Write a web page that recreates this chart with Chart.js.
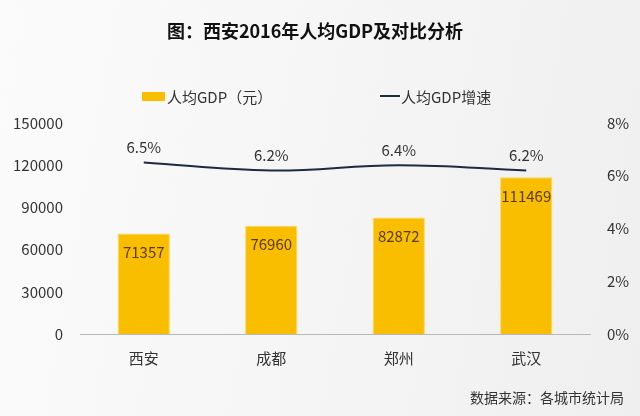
<!DOCTYPE html>
<html>
<head>
<meta charset="utf-8">
<script src="https://cdn.jsdelivr.net/npm/chart.js@4"></script>
<style>
    html, body { margin: 0; padding: 0; }
    body { width: 640px; height: 416px; background: linear-gradient(100deg, #fbfbfb 0%, #f4f4f4 60%, #efefef 100%); }
    #wrap { position: relative; width: 640px; height: 416px; }
</style>
</head>
<body>
<div id="wrap"><canvas id="myChart" width="640" height="416"></canvas></div>
<script>
const title = '图：西安2016年人均GDP及对比分析';
const source = '数据来源：各城市统计局';
const cities = ['西安', '成都', '郑州', '武汉'];
const gdp_per_capita = [71357, 76960, 82872, 111469];
const gdp_growth = [6.5, 6.2, 6.4, 6.2];
const left_ticks = [0, 30000, 60000, 90000, 120000, 150000];
const right_ticks = [0, 2, 4, 6, 8];

const font_family = '"Noto Sans CJK SC", "Noto Sans", sans-serif';
const text_color = '#333333';
const bar_color = '#F9BE00';
const line_color = '#1E2A44';

// title, legend, labels and source drawn on top of the chart
const decorations = {
    id: 'decorations',
    afterDatasetsDraw(chart) {
        const ctx = chart.ctx;
        ctx.save();

        ctx.fillStyle = '#111';
        ctx.font = 'bold 18px ' + font_family;
        ctx.textAlign = 'center';
        ctx.textBaseline = 'middle';
        ctx.fillText(title, 315, 31);

        // legend
        const sets = chart.data.datasets;
        ctx.font = '15px ' + font_family;
        ctx.textAlign = 'left';
        ctx.fillStyle = sets[0].backgroundColor;
        ctx.fillRect(142, 92, 23, 9);
        ctx.fillStyle = text_color;
        ctx.fillText(sets[0].label, 167, 97);
        ctx.strokeStyle = sets[1].borderColor;
        ctx.lineWidth = 2;
        ctx.beginPath();
        ctx.moveTo(380, 96);
        ctx.lineTo(400, 96);
        ctx.stroke();
        ctx.fillText(sets[1].label, 401, 97);

        // bar value labels
        const bars = chart.getDatasetMeta(0).data;
        ctx.textAlign = 'center';
        ctx.font = '15px ' + font_family;
        ctx.fillStyle = '#5a3b08';
        bars.forEach((bar, i) => {
            ctx.fillText(String(sets[0].data[i]), bar.x, bar.y + 19);
        });

        // line value labels
        const points = chart.getDatasetMeta(1).data;
        ctx.fillStyle = text_color;
        ctx.font = '15px ' + font_family;
        points.forEach((pt, i) => {
            ctx.fillText(sets[1].data[i].toFixed(1) + '%', pt.x, pt.y - 15);
        });

        ctx.textAlign = 'right';
        ctx.font = '14px ' + font_family;
        ctx.fillText(source, 624, 398);
        ctx.restore();
    }
};

let ctx = document.getElementById('myChart');
let myChart = new Chart(ctx, {
    data: {
        labels: cities,
        datasets: [{
            type: 'bar',
            label: '人均GDP（元）',
            data: gdp_per_capita,
            backgroundColor: bar_color,
            borderColor: '#FCD75A',
            borderWidth: 1,
            yAxisID: 'y',
            categoryPercentage: 1,
            barPercentage: 0.41,
            order: 2
        }, {
            type: 'line',
            label: '人均GDP增速',
            data: gdp_growth,
            borderColor: line_color,
            borderWidth: 2,
            tension: 0.4,
            pointRadius: 0,
            yAxisID: 'y1',
            order: 1
        }]
    },
    options: {
        responsive: false,
        animation: false,
        layout: { padding: { top: 123, left: 0, right: 0, bottom: 0 } },
        plugins: {
            legend: { display: false },
            title: { display: false },
            tooltip: { enabled: false }
        },
        scales: {
            x: {
                grid: { display: false, drawTicks: false },
                border: { display: true, color: '#b8b8b8', width: 1 },
                ticks: { color: text_color, font: { family: font_family, size: 15 }, padding: 15 },
                afterFit(scale) { scale.height = 82; }
            },
            y: {
                position: 'left',
                min: 0,
                max: 150000,
                afterBuildTicks(scale) { scale.ticks = left_ticks.map(v => ({ value: v })); },
                grid: { display: false, drawTicks: false },
                border: { display: false },
                ticks: {
                    color: text_color,
                    font: { family: font_family, size: 15 },
                    padding: 17,
                    callback: v => String(v)
                },
                afterFit(scale) { scale.width = 80; }
            },
            y1: {
                position: 'right',
                min: 0,
                max: 8,
                afterBuildTicks(scale) { scale.ticks = right_ticks.map(v => ({ value: v })); },
                grid: { display: false, drawTicks: false },
                border: { display: false },
                ticks: {
                    color: text_color,
                    font: { family: font_family, size: 15 },
                    padding: 17,
                    callback: v => v + '%'
                },
                afterFit(scale) { scale.width = 50; }
            }
        }
    },
    plugins: [decorations]
});
</script>
</body>
</html>
